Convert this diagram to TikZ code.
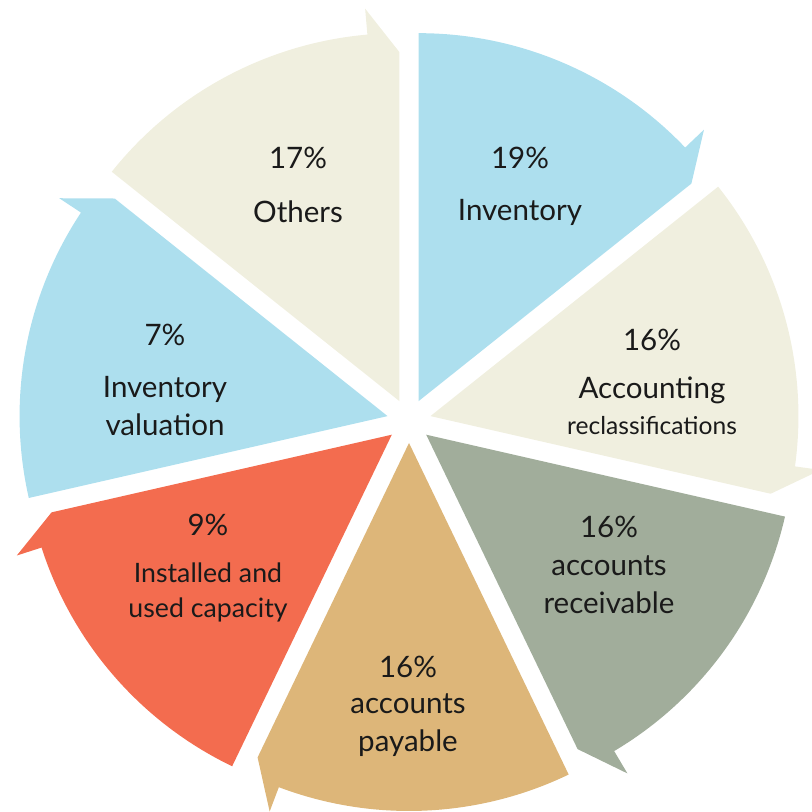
\documentclass[tikz,border=0pt]{standalone}
\usepackage{fontspec}
\setmainfont{Lato}

\definecolor{skyblue}{HTML}{ADDFEE}
\definecolor{cream}{HTML}{F0EFDF}
\definecolor{sage}{HTML}{A1AD9B}
\definecolor{sand}{HTML}{DDB679}
\definecolor{coral}{HTML}{F36C4F}
\definecolor{ink}{HTML}{1A1A1A}

\begin{document}
\begin{tikzpicture}[
    sector/.style={fill=#1, draw=none},
    pct/.style={font=\fontsize{21}{27}\selectfont, text=ink},
    lbl/.style={font=\fontsize{21}{27}\selectfont, align=center, text=ink},
    midlbl/.style={font=\fontsize{19}{25}\selectfont, align=center, text=ink},
    sublbl/.style={font=\fontsize{17.5}{20}\selectfont, text=ink}]

    \useasboundingbox (0,0) rectangle (20.3,20.3);
    \clip (0,0) rectangle (20.3,20.3);

    % seven equal slices, each ending in an arrow tip (clockwise)
    \foreach \i/\col in {0/skyblue,1/cream,2/sage,3/sand,4/coral,5/skyblue,6/cream} {
        \pgfmathsetmacro{\a}{90-360/7*\i}
        \pgfmathsetmacro{\b}{\a-360/7}
        \pgfmathsetmacro{\e}{\b+5}
        \pgfmathsetmacro{\m}{\a-180/7}
        \begin{scope}[shift={(10.225,9.775)}, shift={(\m:0.55)}]
            \fill[sector=\col] (0,0) -- (\a:9.2) arc[start angle=\a, end angle=\e, radius=9.2]
                -- (\e:9.85) -- (\b:8.725) -- cycle;
        \end{scope}
    }

    % percentages and labels
    \node[pct] (inv-pct) at (13.0,16.35) {19\%};
    \node[lbl] (inv-txt) at (13.0,15.0) {Inventory};

    \node[pct] (acc-pct) at (16.3,11.8) {16\%};
    \node[lbl] (acc-txt) at (16.3,10.55) {Accounting};
    \node[sublbl] (acc-sub) at (16.3,9.65) {reclassifications};

    \node[pct] (rec-pct) at (15.225,7.125) {16\%};
    \node[lbl] (rec-txt) at (15.225,5.675) {accounts\\receivable};

    \node[pct] (pay-pct) at (10.2,3.625) {16\%};
    \node[lbl] (pay-txt) at (10.2,2.1625) {accounts\\payable};

    \node[pct] (ins-pct) at (5.2,7.175) {9\%};
    \node[midlbl] (ins-txt) at (5.2,5.4875) {Installed and\\used capacity};

    \node[pct] (val-pct) at (4.125,11.925) {7\%};
    \node[lbl] (val-txt) at (4.125,10.1375) {Inventory\\valuation};

    \node[pct] (oth-pct) at (7.45,16.35) {17\%};
    \node[lbl] (oth-txt) at (7.45,15.0) {Others};
\end{tikzpicture}
\end{document}
